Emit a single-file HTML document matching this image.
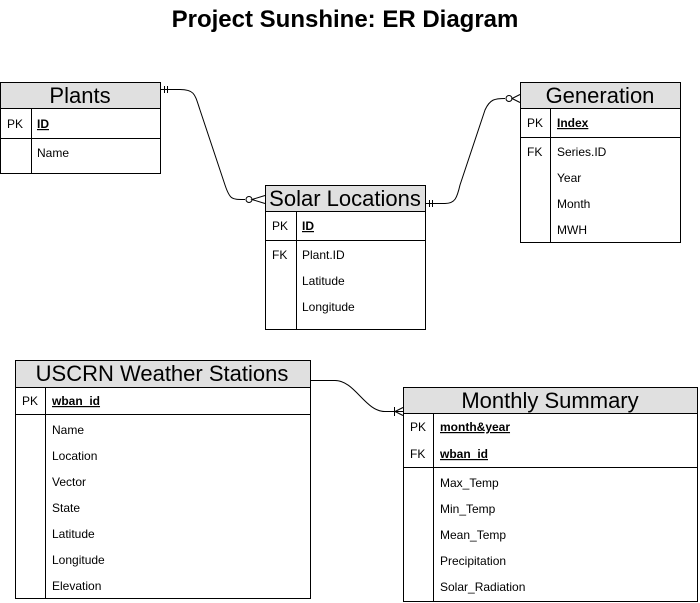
<!DOCTYPE html>
<html><head><style>
html,body{margin:0;padding:0;background:#fff;width:700px;height:603px;overflow:hidden}
svg text{font-family:"Liberation Sans",Arial,sans-serif}
</style></head><body>
<svg width="700" height="603" viewBox="0 0 700 603" xmlns="http://www.w3.org/2000/svg">
<text x="345" y="27" font-size="24" font-weight="bold" text-anchor="middle">Project Sunshine: ER Diagram</text>
<g fill="none" stroke="#000" stroke-width="1">
<path d="M160.5 89.5 H180 C195 89.5 195 95 200 110 L225 185 C230 200 232 199.5 245 199.5"/>
<line x1="164.5" y1="86" x2="164.5" y2="93"/><line x1="167.5" y1="86" x2="167.5" y2="93"/>
<circle cx="249" cy="199.5" r="3" fill="#fff"/>
<path d="M265 195.5 L252 199.5 L265 203.5"/>
<path d="M425.5 203.5 H445 C455 203.5 457 198 460 185 L485 110 C490 99 495 98.5 505 98.5"/>
<line x1="429.5" y1="200" x2="429.5" y2="207"/><line x1="432.5" y1="200" x2="432.5" y2="207"/>
<circle cx="509" cy="98.5" r="3" fill="#fff"/>
<path d="M520 94.5 L512 98.5 L520 102.5"/>
<path d="M310.5 380.5 H335 C355 380.5 365 411.5 385 411.5 H403"/>
<line x1="394.5" y1="407" x2="394.5" y2="416"/>
<path d="M403 407.5 L395 411.5 L403 415.5"/>
</g>
<g stroke="#000" stroke-width="1">
<rect x="0.5" y="82.5" width="160" height="26" fill="#e0e0e0"/>
<rect x="0.5" y="108.5" width="160" height="65" fill="#fff"/>
<line x1="0.5" y1="138.5" x2="160.5" y2="138.5"/><line x1="31.5" y1="108.5" x2="31.5" y2="173.5"/>
<rect x="265.5" y="185.5" width="160" height="26" fill="#e0e0e0"/>
<rect x="265.5" y="211.5" width="160" height="118" fill="#fff"/>
<line x1="265.5" y1="240.5" x2="425.5" y2="240.5"/><line x1="296.5" y1="211.5" x2="296.5" y2="329.5"/>
<rect x="520.5" y="82.5" width="160" height="26" fill="#e0e0e0"/>
<rect x="520.5" y="108.5" width="160" height="134" fill="#fff"/>
<line x1="520.5" y1="137.5" x2="680.5" y2="137.5"/><line x1="550.5" y1="108.5" x2="550.5" y2="242.5"/>
<rect x="15.5" y="360.5" width="295" height="27" fill="#e0e0e0"/>
<rect x="15.5" y="387.5" width="295" height="211" fill="#fff"/>
<line x1="15.5" y1="414.5" x2="310.5" y2="414.5"/><line x1="45.5" y1="387.5" x2="45.5" y2="598.5"/>
<rect x="403.5" y="387.5" width="294" height="26" fill="#e0e0e0"/>
<rect x="403.5" y="413.5" width="294" height="188" fill="#fff"/>
<line x1="403.5" y1="467.5" x2="697.5" y2="467.5"/><line x1="433.5" y1="413.5" x2="433.5" y2="601.5"/>
</g>
<g font-size="22" text-anchor="middle">
<text x="80" y="103">Plants</text>
<text x="345" y="206">Solar Locations</text>
<text x="600" y="103">Generation</text>
<text x="162" y="381">USCRN Weather Stations</text>
<text x="550" y="408">Monthly Summary</text>
</g>
<g font-size="12">
<text x="7" y="128">PK</text><text x="37" y="128" font-weight="bold" text-decoration="underline">ID</text>
<text x="37" y="157">Name</text>
<text x="272" y="230">PK</text><text x="302" y="230" font-weight="bold" text-decoration="underline">ID</text>
<text x="272" y="259">FK</text><text x="302" y="259">Plant.ID</text>
<text x="302" y="285">Latitude</text><text x="302" y="311">Longitude</text>
<text x="527" y="127">PK</text><text x="557" y="127" font-weight="bold" text-decoration="underline">Index</text>
<text x="527" y="156">FK</text><text x="557" y="156">Series.ID</text>
<text x="557" y="182">Year</text><text x="557" y="208">Month</text><text x="557" y="234">MWH</text>
<text x="22" y="405">PK</text><text x="52" y="405" font-weight="bold" text-decoration="underline">wban_id</text>
<text x="52" y="434">Name</text><text x="52" y="460">Location</text><text x="52" y="486">Vector</text>
<text x="52" y="512">State</text><text x="52" y="538">Latitude</text><text x="52" y="564">Longitude</text><text x="52" y="590">Elevation</text>
<text x="410" y="431">PK</text><text x="440" y="431" font-weight="bold" text-decoration="underline">month&amp;year</text>
<text x="410" y="458">FK</text><text x="440" y="458" font-weight="bold" text-decoration="underline">wban_id</text>
<text x="440" y="487">Max_Temp</text><text x="440" y="513">Min_Temp</text><text x="440" y="539">Mean_Temp</text>
<text x="440" y="565">Precipitation</text><text x="440" y="591">Solar_Radiation</text>
</g>
</svg>
</body></html>
